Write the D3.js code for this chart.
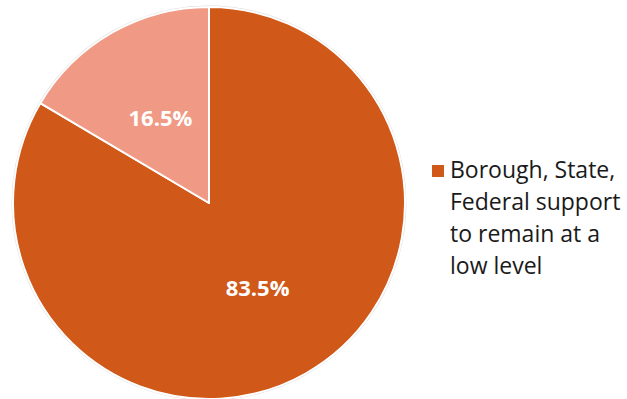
<!DOCTYPE html>
<html>
<head>
<meta charset="utf-8">
<script src="https://cdn.jsdelivr.net/npm/d3@7"></script>
<style>
  html, body { margin: 0; padding: 0; background: #fff; }
  svg { display: block; }
</style>
</head>
<body>
<svg id="chart" width="627" height="399"></svg>
<script>
// Survey responses
const categories = ["Borough, State, Federal support to remain at a low level", "Other"];
const values = [83.5, 16.5];
const colors = ["#D05818", "#F09A86"];
const legendLines = ["Borough, State,", "Federal support", "to remain at a", "low level"];

const svg = d3.select("#chart");
const cx = 209, cy = 203, r = 196;

const pie = d3.pie().sort(null).value(d => d.value).startAngle(0).endAngle(2 * Math.PI);
const arcs = pie(categories.map((c, i) => ({ name: c, value: values[i], color: colors[i] })));
const arc = d3.arc().innerRadius(0).outerRadius(r);
const labelArc = d3.arc().innerRadius(r * 0.5).outerRadius(r * 0.5);

const g = svg.append("g").attr("transform", `translate(${cx},${cy})`);

// soft outline around the pie
g.append("circle").attr("r", r + 0.8).attr("fill", "none").attr("stroke", "#d8d8d8").attr("stroke-width", 1.2);

g.selectAll("path.slice")
  .data(arcs)
  .join("path")
  .attr("class", "slice")
  .attr("d", arc)
  .attr("fill", d => d.data.color)
  .attr("stroke", "#fff")
  .attr("stroke-width", 2)
  .attr("stroke-linejoin", "round");

g.selectAll("text.val")
  .data(arcs)
  .join("text")
  .attr("class", "val")
  .attr("transform", d => {
    const [x, y] = labelArc.centroid(d);
    return `translate(${x},${y})`;
  })
  .attr("text-anchor", "middle")
  .attr("dy", "0.36em")
  .attr("fill", "#fff")
  .attr("font-family", "'Open Sans', sans-serif")
  .attr("font-weight", "bold")
  .attr("font-size", 22)
  .text(d => d3.format(".1f")(d.data.value) + "%");

// Legend (first category only)
const lg = svg.append("g").attr("transform", "translate(432,165)");
lg.append("rect").attr("x", 0).attr("y", 0).attr("width", 12).attr("height", 12).attr("fill", colors[0]);
lg.append("text")
  .attr("font-family", "'Open Sans', sans-serif")
  .attr("font-size", 23)
  .attr("fill", "#1a1a1a")
  .selectAll("tspan")
  .data(legendLines)
  .join("tspan")
  .attr("x", 18)
  .attr("y", (d, i) => 13 + i * 32)
  .text(d => d);
</script>
</body>
</html>
